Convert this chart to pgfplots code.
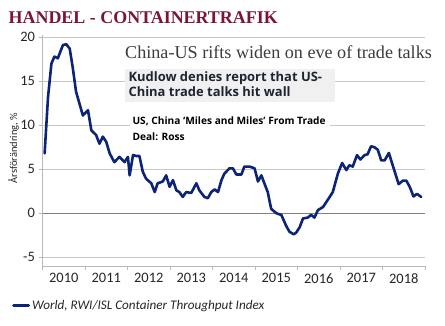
\documentclass[border=0pt]{standalone}
\usepackage{pgfplots}
\pgfplotsset{compat=1.18}
\usepackage{fontspec}
\setmainfont{Carlito}
\newfontfamily\serifhead{Liberation Serif}
\newfontfamily\osans{Open Sans}
\definecolor{navy}{RGB}{12,36,120}
\definecolor{titlered}{RGB}{122,22,52}
\definecolor{gridgray}{RGB}{200,200,200}
\definecolor{axgray}{RGB}{185,185,185}
\definecolor{zerogray}{RGB}{128,128,128}
\definecolor{boxgray}{RGB}{240,240,240}
\definecolor{headgray}{RGB}{60,60,60}
\definecolor{kudcol}{RGB}{30,36,50}
\pgfplotstableread{
x y
2010.05 6.8
2010.13 13.2
2010.21 17.0
2010.28 17.8
2010.36 17.6
2010.48 19.1
2010.56 19.2
2010.64 18.7
2010.71 16.6
2010.79 13.8
2010.95 11.1
2011.07 11.7
2011.15 9.4
2011.26 8.9
2011.34 7.9
2011.42 8.7
2011.50 8.1
2011.58 6.8
2011.69 5.8
2011.81 6.4
2011.93 5.8
2012.01 6.4
2012.05 4.3
2012.13 6.6
2012.21 6.5
2012.28 6.5
2012.36 4.7
2012.44 3.9
2012.56 3.4
2012.64 2.4
2012.71 3.4
2012.83 3.6
2012.91 4.3
2012.99 3.0
2013.07 3.75
2013.15 2.6
2013.22 2.4
2013.30 1.85
2013.38 2.4
2013.50 2.3
2013.62 3.4
2013.69 2.6
2013.81 1.85
2013.89 1.7
2013.97 2.4
2014.05 2.7
2014.13 2.4
2014.21 3.75
2014.28 4.5
2014.40 5.1
2014.48 5.1
2014.56 4.4
2014.68 4.4
2014.75 5.3
2014.87 5.3
2014.99 5.1
2015.07 3.6
2015.15 4.3
2015.22 3.4
2015.30 2.4
2015.38 0.5
2015.50 0.0
2015.62 -0.2
2015.73 -1.4
2015.81 -2.1
2015.91 -2.4
2015.97 -2.2
2016.05 -1.6
2016.13 -0.6
2016.24 -0.5
2016.32 -0.2
2016.40 -0.5
2016.48 0.35
2016.60 0.7
2016.71 1.5
2016.83 2.4
2016.95 4.5
2017.05 5.7
2017.15 4.9
2017.22 5.45
2017.30 5.3
2017.40 6.6
2017.48 6.1
2017.58 6.6
2017.65 6.7
2017.73 7.6
2017.81 7.5
2017.89 7.2
2017.97 6.0
2018.05 6.0
2018.15 6.85
2018.24 5.45
2018.38 3.3
2018.48 3.7
2018.56 3.7
2018.64 3.0
2018.73 1.9
2018.81 2.2
2018.91 1.85
}\datatable
\begin{document}
\begin{tikzpicture}
\path[use as bounding box] (0,0) rectangle (445bp,326bp);
\begin{axis}[
  at={(42.5bp,60bp)}, anchor=south west,
  scale only axis, width=382.5bp, height=231bp,
  xmin=2010, xmax=2019, ymin=-6, ymax=20.25,
  axis x line*=bottom, axis y line*=left,
  axis line style={axgray, line width=0.8bp},
  xtick={2010,2011,...,2019},
  x tick label as interval,
  xticklabels={2010,2011,2012,2013,2014,2015,2016,2017,2018},
  ytick={-5,0,5,10,15,20},
  ymajorgrids,
  grid style={gridgray, line width=0.8bp},
  extra y ticks={0},
  extra y tick labels={},
  extra y tick style={grid style={zerogray, line width=1.1bp}, major tick length=0pt},
  tick style={axgray, line width=0.8bp},
  major tick length=4bp, tick align=outside,
  tick label style={font=\fontsize{14.5}{16}\selectfont, text=black!85},
  /pgf/number format/assume math mode=true,
  clip=false,
  legend style={at={(rel axis cs:-0.08,-0.172)}, anchor=west, draw=none, fill=none,
    font=\itshape\fontsize{13.2}{15}\selectfont, inner sep=0pt, text=black!85},
  legend image code/.code={\draw[navy, line width=3bp] (0bp,0bp) -- (15bp,0bp);},
]
\addplot[navy, line width=2.6bp, line join=round, line cap=round] table[x=x,y=y] {\datatable};
\addlegendentry{World, RWI/ISL Container Throughput Index}
\end{axis}
\node[rotate=90, inner sep=0, font=\fontsize{10.5}{12}\selectfont, text=black!85] at (13.5bp,178bp) {Årsförändring, \%};
\node[anchor=base west, inner sep=0, text=titlered, font=\serifhead\bfseries\fontsize{18}{20}\selectfont] at (8.5bp,302.7bp) {HANDEL - CONTAINERTRAFIK};
\fill[white] (118bp,262bp) rectangle (444bp,288bp);
\node[anchor=base west, inner sep=0, text=headgray, font=\serifhead\fontsize{18.2}{20}\selectfont] at (125bp,267.7bp) {China-US rifts widen on eve of trade talks};
\fill[boxgray] (125bp,224.3bp) rectangle (335bp,257bp);
\node[anchor=base west, inner sep=0, text=kudcol, font=\osans\bfseries\fontsize{13}{15}\selectfont] at (128.3bp,244.3bp) {Kudlow denies report that US-};
\node[anchor=base west, inner sep=0, text=kudcol, font=\osans\bfseries\fontsize{13}{15}\selectfont] at (128.3bp,229.3bp) {China trade talks hit wall};
\fill[white] (130bp,197bp) rectangle (330bp,212bp);
\node[anchor=base west, inner sep=0, text=black, font=\osans\bfseries\fontsize{10.2}{12}\selectfont] at (132.3bp,201bp) {US, China ‘Miles and Miles’ From Trade};
\node[anchor=base west, inner sep=0, text=black, font=\osans\bfseries\fontsize{10.2}{12}\selectfont] at (132.3bp,185.3bp) {Deal: Ross};
\end{tikzpicture}
\end{document}
